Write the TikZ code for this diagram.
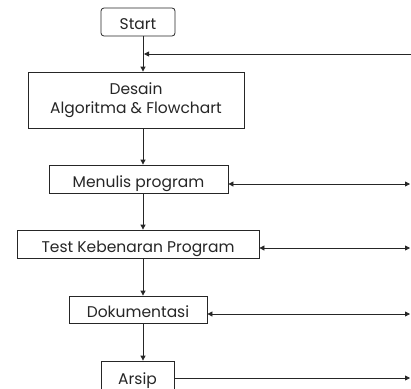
\documentclass[tikz,border=0pt]{standalone}
\usepackage{fontspec}
\setmainfont{Poppins}
\usetikzlibrary{arrows.meta}
\begin{document}
\begin{tikzpicture}[x=1pt,y=-1pt,
  box/.style={draw=black!85, line width=0.8pt, fill=white, inner sep=0pt, font=\fontsize{15.5}{18.5}\selectfont, text=black!85, align=center},
  oneline/.style={box, text height=16pt, text depth=0pt},
  conn/.style={draw=black!85, line width=0.8pt, -{Triangle[length=5pt,width=5pt]}},
  dconn/.style={draw=black!85, line width=0.8pt, {Triangle[length=5pt,width=5pt]}-{Triangle[length=5pt,width=5pt]}}]
\useasboundingbox (0,0) rectangle (411,388);
\node[oneline, rounded corners=3pt, minimum width=74pt, minimum height=28pt, text height=15pt] (start) at (138,22) {Start};
\node[box, minimum width=216pt, minimum height=56pt] (desain) at (136,100) {Desain\\Algoritma \& Flowchart};
\node[oneline, minimum width=179pt, minimum height=28pt] (menulis) at (138.5,179) {Menulis program};
\node[oneline, minimum width=242pt, minimum height=28pt] (test) at (138,244) {Test Kebenaran Program};
\node[oneline, minimum width=138pt, minimum height=27pt] (dok) at (138,309.5) {Dokumentasi};
\node[oneline, minimum width=73pt, minimum height=30pt] (arsip) at (137.5,376) {Arsip};
\coordinate (j) at (143,54);
\coordinate (r0) at (411,54);
\coordinate (r1) at (410,184);
\coordinate (r2) at (410,248);
\coordinate (r3) at (410,314);
\coordinate (r4) at (410,378);
\draw[conn] (start.south -| j) -- (desain.north -| j);
\draw[conn] (r0) -- ([xshift=1pt]j);
\draw[conn] (desain.south -| j) -- (menulis.north -| j);
\draw[conn] (menulis.south -| j) -- (test.north -| j);
\draw[conn] (test.south -| j) -- (dok.north -| j);
\draw[conn] (dok.south -| j) -- (arsip.north -| j);
\draw[dconn] (menulis.east |- r1) -- (r1);
\draw[dconn] (test.east |- r2) -- (r2);
\draw[dconn] (dok.east |- r3) -- (r3);
\draw[conn] (arsip.east |- r4) -- (r4);
\end{tikzpicture}
\end{document}
